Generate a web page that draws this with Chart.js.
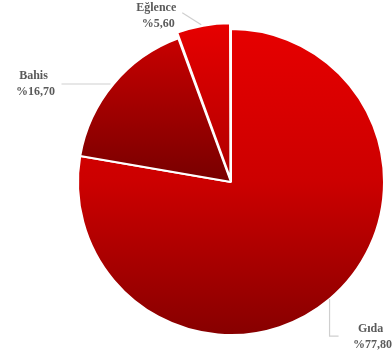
<!DOCTYPE html>
<html><head><meta charset="utf-8">
<script src="https://cdn.jsdelivr.net/npm/chart.js@4/dist/chart.umd.min.js"></script>
<style>html,body{margin:0;padding:0;background:#fff}</style>
</head><body>
<canvas id="c" width="392" height="358" style="width:392px;height:358px;display:block"></canvas>
<script>
// ---- data ----
const categories = ['Gıda', 'Bahis', 'Eğlence'];
const values = [77.8, 16.7, 5.6];
const valueLabels = ['%77,80', '%16,70', '%5,60'];

// ---- styles ----
const sliceOffsets = [0, 0, 14];
const gradientStops = [
  [[0, '#e60000'], [0.5, '#cc0000'], [1, '#870000']],
  [[0, '#c80000'], [1, '#780000']],
  [[0, '#e60000'], [1, '#b00000']]
];
// leader line points and text anchor, relative to the slice edge point
const labelLayout = [
  {path: [[0, 0], [0, 37], [9, 37]], text: [41, 30]},
  {path: [[-3, 0], [-52, 0]], text: [-80, -8]},
  {path: [[-2, -1], [-21, -13]], text: [-47, -18]}
];

function sliceGradient(c) {
  const chart = c.chart;
  const i = c.dataIndex;
  const ca = chart.chartArea;
  const stops = gradientStops[i];
  if (!ca) return stops[0][1];
  const ctrl = chart.getDatasetMeta(0).controller;
  const r = ctrl.outerRadius || 150;
  const cy = (ca.top + ca.bottom) / 2;
  const total = values.reduce((a, b) => a + b, 0);
  let start = 0;
  for (let k = 0; k < i; k++) start += values[k] / total * Math.PI * 2;
  const end = start + values[i] / total * Math.PI * 2;
  let ys = [cy, cy - r * Math.cos(start), cy - r * Math.cos(end)];
  if (start <= 0.0001 || end >= Math.PI * 2 - 0.0001) ys.push(cy - r);
  if (start <= Math.PI && end >= Math.PI) ys.push(cy + r);
  const y0 = Math.min(...ys), y1 = Math.max(...ys);
  const g = chart.ctx.createLinearGradient(0, y0, 0, y1);
  stops.forEach(s => g.addColorStop(s[0], s[1]));
  return g;
}

const labelPlugin = {
  id: 'pieLabels',
  afterDatasetsDraw(chart) {
    const ctx = chart.ctx;
    const meta = chart.getDatasetMeta(0);
    meta.data.forEach((el, i) => {
      const p = el.getProps(['x', 'y', 'startAngle', 'endAngle', 'outerRadius', 'circumference']);
      const mid = (p.startAngle + p.endAngle) / 2;
      const off = (sliceOffsets[i] || 0) / 4;
      const fix = 1 - Math.sin(Math.min(Math.PI, p.circumference || 0));
      const shift = off + off * fix;
      const ex = p.x + Math.cos(mid) * (p.outerRadius + shift);
      const ey = p.y + Math.sin(mid) * (p.outerRadius + shift);
      const L = labelLayout[i];
      ctx.save();
      ctx.strokeStyle = '#cfcfcf';
      ctx.lineWidth = 1.2;
      ctx.beginPath();
      L.path.forEach((pt, k) => {
        if (k === 0) ctx.moveTo(ex + pt[0], ey + pt[1]);
        else ctx.lineTo(ex + pt[0], ey + pt[1]);
      });
      ctx.stroke();
      ctx.fillStyle = '#5a5a5a';
      ctx.font = 'bold 12px "Liberation Serif", "Times New Roman", serif';
      ctx.textAlign = 'center';
      ctx.textBaseline = 'middle';
      const tx = ex + L.text[0], ty = ey + L.text[1];
      ctx.fillText(categories[i], tx, ty);
      ctx.fillText(valueLabels[i], tx + 2, ty + 16);
      ctx.restore();
    });
  }
};

new Chart(document.getElementById('c'), {
  type: 'pie',
  data: {
    labels: categories,
    datasets: [{
      data: values,
      backgroundColor: sliceGradient,
      borderColor: '#ffffff',
      borderWidth: 2,
      offset: sliceOffsets,
      hoverOffset: 0
    }]
  },
  options: {
    responsive: false,
    animation: false,
    devicePixelRatio: 1,
    radius: 153,
    layout: {padding: {left: 75, right: 5, top: 26, bottom: 20}},
    plugins: {legend: {display: false}, tooltip: {enabled: false}}
  },
  plugins: [labelPlugin]
});
</script>
</body></html>
